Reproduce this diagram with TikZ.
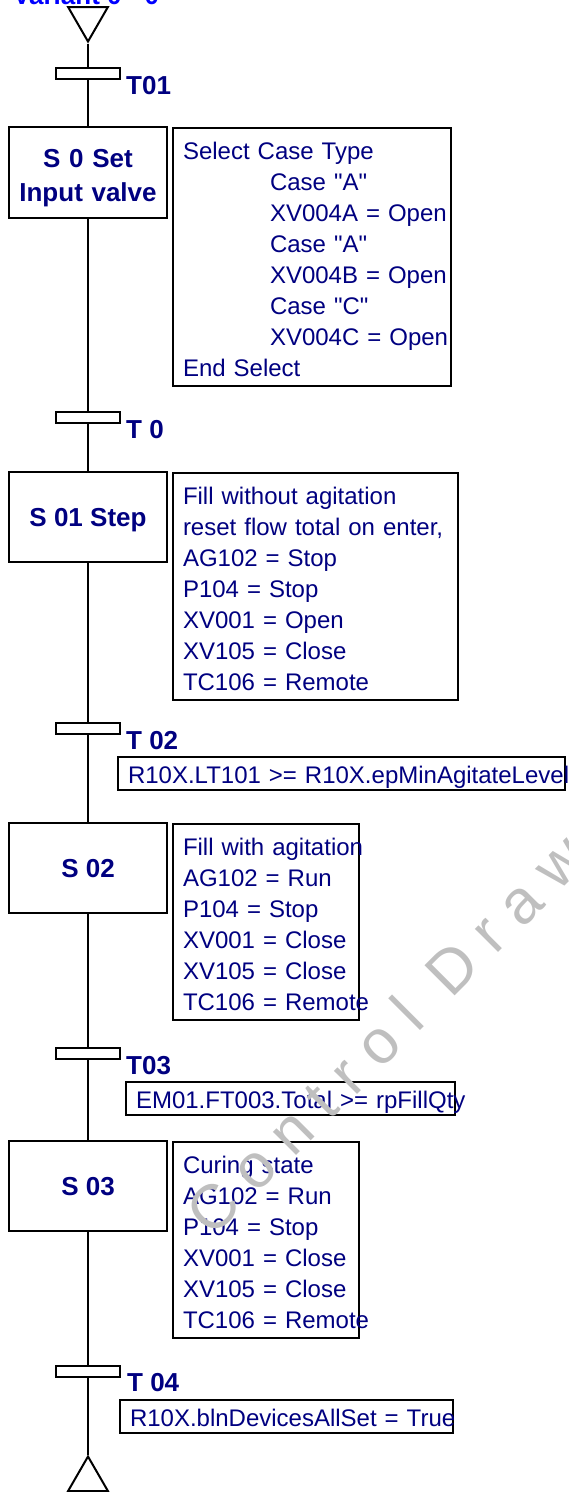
\documentclass[tikz,border=0pt]{standalone}
\usepackage{fontspec}
\setmainfont{Liberation Sans}[Ligatures=TeXOff]
\usepackage{tikz}
\usetikzlibrary{shapes.geometric}
\definecolor{sfcnavy}{RGB}{0,0,128}
\definecolor{sfcblue}{RGB}{0,0,255}
\newcommand{\acttxt}{\fontsize{24}{31}\selectfont}
\newcommand{\stepfont}{\fontsize{26}{34}\selectfont\bfseries}
\newcommand{\rows}[1]{\begin{tabular}[t]{@{}l@{}}#1\end{tabular}}

\begin{document}
\begin{tikzpicture}[
  x=1pt, y=-1pt,
  flow/.style={line width=2.3pt},
  stepbox/.style={draw, line width=2pt, minimum width=158pt, minimum height=90.5pt, inner sep=0pt, align=center, text=sfcnavy, font=\stepfont, text height=19pt, text depth=0pt},
  trans/.style={draw, fill=white, line width=2pt, minimum width=64pt, minimum height=11pt, inner sep=0pt},
  tlbl/.style={anchor=base west, inner sep=0pt, text=sfcnavy, font=\stepfont},
  act/.style={draw, line width=2pt, anchor=north west, align=left, inner xsep=10pt, inner ysep=0pt, text height=31pt, text=sfcnavy, font=\acttxt},
  cond/.style={draw, line width=2pt, anchor=north west, align=left, inner xsep=10pt, inner ysep=0pt, text height=26.6pt, text depth=6.6pt, text=sfcnavy, font=\acttxt},
  term/.style={draw, line width=2pt, regular polygon, regular polygon sides=3, minimum size=46pt, inner sep=0pt},
  wmark/.style={inner sep=0pt, text=black!25, font=\fontsize{62}{62}\selectfont}
]
\useasboundingbox (0,0) rectangle (568,1492);

% Titel (oben abgeschnitten)
\node[anchor=base west, inner sep=0pt, text=sfcblue, font=\stepfont] (title) at (13,4) {Variant 0 - 0};

% Ein- und Ausgang
\node[term, rotate=180] (tin)  at (88,18.5)   {};
\node[term]             (tout) at (88,1479.5) {};

% Transitionen
\node[trans] (t01) at (88,73)     {};
\node[trans] (t0)  at (88,417.5)  {};
\node[trans] (t02) at (88,728.5)  {};
\node[trans] (t03) at (88,1053.5) {};
\node[trans] (t04) at (88,1371.5) {};
\node[tlbl] (l01) at (126,94.3)   {T01};
\node[tlbl] (l0)  at (126,438.3)  {T 0};
\node[tlbl] (l02) at (126,749.3)  {T 02};
\node[tlbl] (l03) at (126,1074.3) {T03};
\node[tlbl] (l04) at (127,1391.7) {T 04};

% Schritte
\node[stepbox, text width=150pt, text height=23pt, text depth=34pt] (s0) at (88,172.5) {S 0 Set\\Input valve};
\node[stepbox] (s01) at (88,517)  {S 01 Step};
\node[stepbox] (s02) at (88,868)  {S 02};
\node[stepbox] (s03) at (88,1186) {S 03};

% Aktionen
\node[act, text width=258pt, text depth=227pt] (a0) at (172,127) {\rows{Select Case Type\\
  \hspace*{87pt}Case "A"\\ \hspace*{87pt}XV004A = Open\\
  \hspace*{87pt}Case "A"\\ \hspace*{87pt}XV004B = Open\\
  \hspace*{87pt}Case "C"\\ \hspace*{87pt}XV004C = Open\\
  End Select}};
\node[act, text width=265pt, text depth=196pt] (a01) at (172,472) {\rows{Fill without agitation\\reset flow total on enter,\\AG102 = Stop\\P104 = Stop\\XV001 = Open\\XV105 = Close\\TC106 = Remote}};
\node[act, text width=166pt, text depth=165pt] (a02) at (172,823) {\rows{Fill with agitation\\AG102 = Run\\P104 = Stop\\XV001 = Close\\XV105 = Close\\TC106 = Remote}};
\node[act, text width=166pt, text depth=165pt] (a03) at (172,1141) {\rows{Curing state\\AG102 = Run\\P104 = Stop\\XV001 = Close\\XV105 = Close\\TC106 = Remote}};

% Bedingungen
\node[cond, text width=427pt] (c02) at (117,756)  {\rows{R10X.LT101 >= R10X.epMinAgitateLevel}};
\node[cond, text width=309pt] (c03) at (125,1081) {\rows{EM01.FT003.Total >= rpFillQty}};
\node[cond, text width=313pt] (c04) at (119,1399) {\rows{R10X.blnDevicesAllSet = True}};

% Wirkungslinie
\draw[flow] (tin.corner 1) -- (t01);
\foreach \a/\b in {t01/s0, s0/t0, t0/s01, s01/t02, t02/s02, s02/t03, t03/s03, s03/t04}
  \draw[flow] (\a) -- (\b);
\draw[flow] (t04) -- (tout.corner 1);

% Wasserzeichen
\node[wmark, rotate=45, anchor=west] (wm) at (197,1223) {C o n t r o l\ \ D r a w};
\end{tikzpicture}
\end{document}
